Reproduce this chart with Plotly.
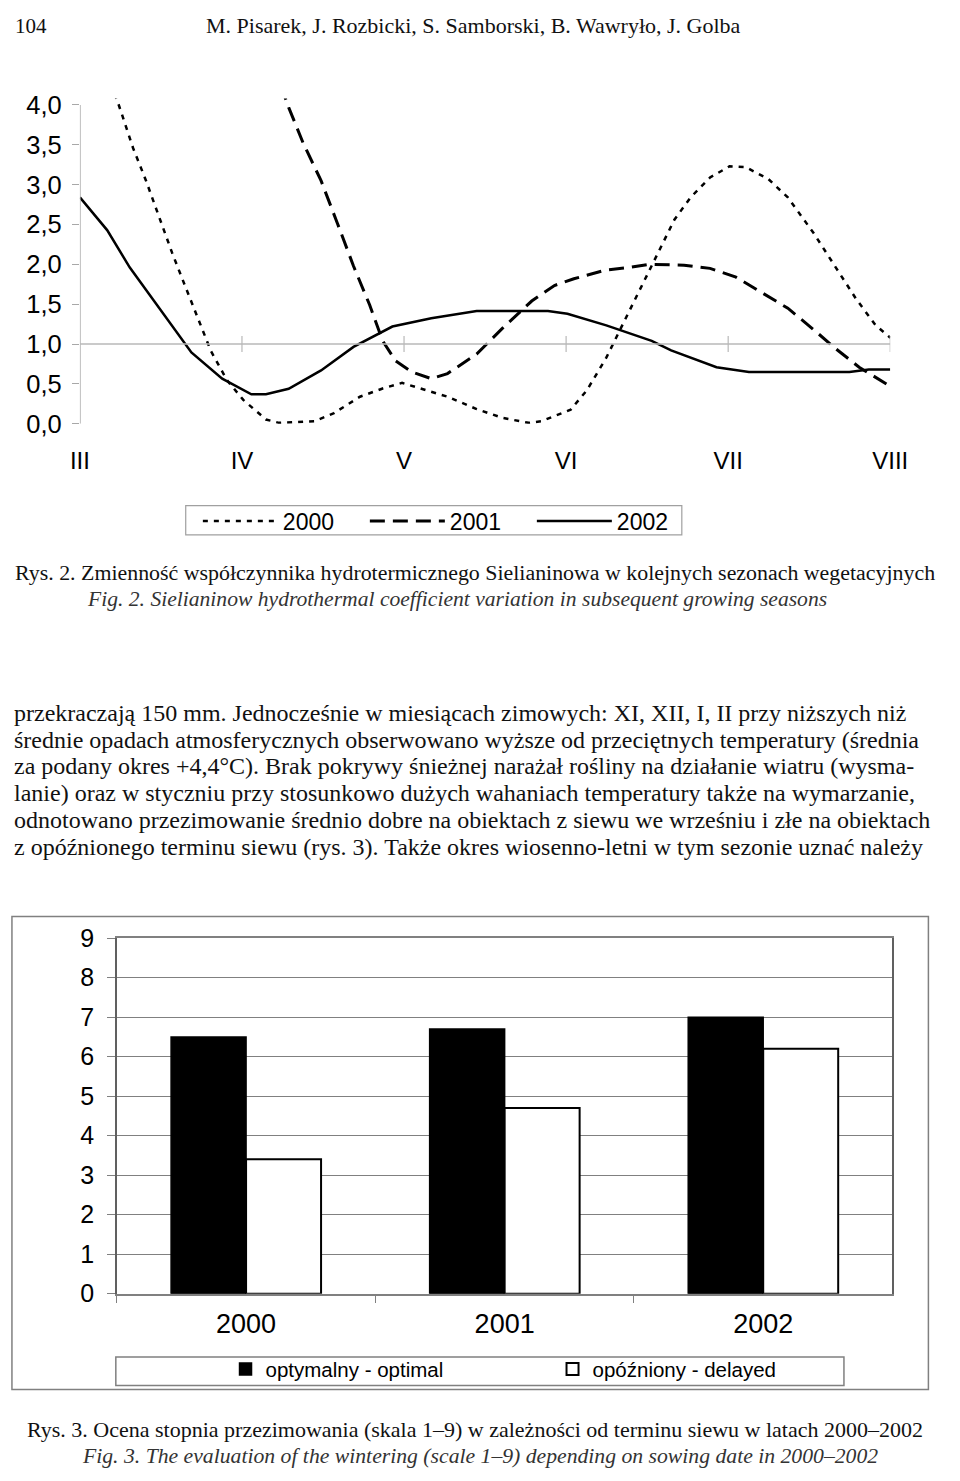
import plotly.graph_objects as go

W, H = 960, 1481

# --- Fig. 2: Sielianinow coefficient, months III..VIII (0 = III, 5 = VIII)
month_labels = ["III", "IV", "V", "VI", "VII", "VIII"]
y_ticks = [0, 0.5, 1, 1.5, 2, 2.5, 3, 3.5, 4]
y_ticklabels = ["0,0", "0,5", "1,0", "1,5", "2,0", "2,5", "3,0", "3,5", "4,0"]

m_2000 = [0.0, 0.228, 0.258, 0.328, 0.408, 0.488, 0.568, 0.648, 0.728, 0.808, 0.908, 1.008,
          1.148, 1.228, 1.448, 1.568, 1.728, 1.868, 1.988, 2.108, 2.268, 2.448, 2.608,
          2.768, 2.848, 3.028, 3.128, 3.248, 3.328, 3.448, 3.568, 3.668, 3.768, 3.888,
          4.008, 4.108, 4.248, 4.368, 4.528, 4.668, 4.788, 4.908, 5.0]
v_2000 = [5.0, 4.07, 3.89, 3.46, 3.05, 2.60, 2.15, 1.735, 1.325, 0.915, 0.546, 0.30,
          0.054, 0.012, 0.033, 0.135, 0.34, 0.443, 0.513, 0.443, 0.34, 0.185, 0.074,
          0.012, 0.033, 0.177, 0.42, 0.83, 1.16, 1.65, 2.15, 2.56, 2.84, 3.09,
          3.23, 3.22, 3.07, 2.84, 2.39, 1.94, 1.57, 1.24, 1.08]

m_2001 = [1.0, 1.288, 1.378, 1.488, 1.588, 1.688, 1.788, 1.868, 1.948, 2.048, 2.168,
          2.268, 2.448, 2.608, 2.788, 2.928, 3.048, 3.248, 3.388, 3.508, 3.728, 3.888,
          4.048, 4.208, 4.368, 4.528, 4.668, 4.808, 5.0]
v_2001 = [5.6, 3.97, 3.52, 3.05, 2.52, 1.98, 1.49, 1.04, 0.79, 0.65, 0.566,
          0.63, 0.874, 1.20, 1.54, 1.735, 1.82, 1.93, 1.96, 2.00, 1.99, 1.95,
          1.84, 1.65, 1.45, 1.18, 0.935, 0.71, 0.47]

m_2002 = [0.0, 0.168, 0.308, 0.488, 0.688, 0.878, 1.058, 1.148, 1.288, 1.488, 1.688,
          1.928, 2.168, 2.448, 2.888, 3.008, 3.248, 3.528, 3.648, 3.928, 4.128,
          4.748, 4.868, 5.0]
v_2002 = [2.84, 2.43, 1.96, 1.45, 0.895, 0.566, 0.37, 0.37, 0.44, 0.67, 0.965,
          1.22, 1.325, 1.415, 1.415, 1.38, 1.235, 1.04, 0.92, 0.71, 0.65,
          0.65, 0.68, 0.68]

# --- Fig. 3: wintering score
years = ["2000", "2001", "2002"]
optimal = [6.5, 6.7, 7.0]
delayed = [3.4, 4.7, 6.2]

SANS = "Liberation Sans, Arial, sans-serif"
SERIF = "Liberation Serif, Times New Roman, serif"


def py(y):
    return 1 - y / H


fig = go.Figure()

fig.add_trace(go.Scatter(x=m_2000, y=v_2000, mode="lines", name="2000",
                         line=dict(color="black", width=2.5, dash="5px,6px"),
                         xaxis="x", yaxis="y", legend="legend"))
fig.add_trace(go.Scatter(x=m_2001, y=v_2001, mode="lines", name="2001",
                         line=dict(color="black", width=3, dash="15px,8px"),
                         xaxis="x", yaxis="y", legend="legend"))
fig.add_trace(go.Scatter(x=m_2002, y=v_2002, mode="lines", name="2002",
                         line=dict(color="black", width=2.5),
                         xaxis="x", yaxis="y", legend="legend"))

fig.add_trace(go.Bar(x=years, y=optimal, name="optymalny - optimal",
                     marker=dict(color="black", line=dict(color="black", width=1.5)),
                     xaxis="x2", yaxis="y2", legend="legend2"))
fig.add_trace(go.Bar(x=years, y=delayed, name="opóźniony - delayed",
                     marker=dict(color="white", line=dict(color="black", width=2)),
                     xaxis="x2", yaxis="y2", legend="legend2"))

# axis lines of fig. 2 (x axis crosses at 1,0)
shapes = [
    dict(type="line", xref="x", yref="y", x0=0, x1=0, y0=0, y1=4,
         line=dict(color="#a8a8a8", width=1.5)),
    dict(type="line", xref="x", yref="y", x0=0, x1=5, y0=1, y1=1,
         line=dict(color="#b8b8b8", width=1.5)),
]
for i in range(1, len(month_labels)):
    shapes.append(dict(type="line", xref="x", yref="y", x0=i, x1=i, y0=0.9, y1=1.1,
                       line=dict(color="#b8b8b8", width=1.2)))
# legend box fig. 2
shapes.append(dict(type="rect", xref="paper", yref="paper",
                   x0=181 / W, x1=692 / W, y0=py(531), y1=py(501),
                   line=dict(color="#a0a0a0", width=1.2)))
# chart border fig. 3
shapes.append(dict(type="rect", xref="paper", yref="paper",
                   x0=2 / W, x1=946 / W, y0=py(1402), y1=py(920),
                   line=dict(color="#808080", width=1.5)))
# legend box fig. 3
shapes.append(dict(type="rect", xref="paper", yref="paper",
                   x0=109 / W, x1=859 / W, y0=py(1398), y1=py(1369),
                   line=dict(color="#808080", width=1.5)))

paragraph = [
    "przekraczają 150 mm. Jednocześnie w miesiącach zimowych: XI, XII, I, II przy niższych niż",
    "średnie opadach atmosferycznych obserwowano wyższe od przeciętnych temperatury (średnia",
    "za podany okres +4,4°C). Brak pokrywy śnieżnej narażał rośliny na działanie wiatru (wysma-",
    "lanie) oraz w styczniu przy stosunkowo dużych wahaniach temperatury także na wymarzanie,",
    "odnotowano przezimowanie średnio dobre na obiektach z siewu we wrześniu i złe na obiektach",
    "z opóźnionego terminu siewu (rys. 3). Także okres wiosenno-letni w tym sezonie uznać należy",
]

ann = []


def text(x, y, s, size, anchor="left", italic=False, color="#111", family=SERIF):
    ann.append(dict(x=x / W, y=py(y), xref="paper", yref="paper", text=s, showarrow=False,
                    xanchor=anchor, yanchor="middle",
                    font=dict(family=family, size=size, color=color,
                              style="italic" if italic else "normal")))


text(3, 12, "104", 21)
text(477, 12, "M. Pisarek, J. Rozbicki, S. Samborski, B. Wawryło, J. Golba", 22, "center")
text(479, 569, "Rys. 2. Zmienność współczynnika hydrotermicznego Sielianinowa w kolejnych sezonach wegetacyjnych",
     21.9, "center")
text(77, 596, "Fig. 2. Sielianinow hydrothermal coefficient variation in subsequent growing seasons",
     21.6, italic=True, color="#333")
for i, line in enumerate(paragraph):
    text(2, 712 + 27.5 * i, line, 24)
text(479, 1443, "Rys. 3. Ocena stopnia przezimowania (skala 1–9) w zależności od terminu siewu w latach 2000–2002",
     22, "center")
text(484, 1470, "Fig. 3. The evaluation of the wintering (scale 1–9) depending on sowing date in 2000–2002",
     21.7, "center", italic=True, color="#333")

fig.update_layout(
    width=W, height=H,
    margin=dict(l=0, r=0, t=0, b=0),
    paper_bgcolor="white", plot_bgcolor="white",
    font=dict(family=SANS, color="black"),
    shapes=shapes, annotations=ann,
    barmode="group", bargap=0.42, bargroupgap=0,
    xaxis=dict(domain=[72 / W, 906.7 / W], range=[0, 5], tickvals=list(range(6)),
               ticktext=month_labels, showgrid=False, zeroline=False, showline=False,
               ticks="", ticklabelstandoff=20, tickfont=dict(size=24)),
    yaxis=dict(domain=[py(417.7), py(86.2)], range=[0, 4.08], tickvals=y_ticks,
               ticktext=y_ticklabels, showgrid=False, zeroline=False, showline=False,
               ticks="outside", ticklen=7, tickcolor="#a8a8a8", tickwidth=1.2,
               tickfont=dict(size=25.5), ticklabelstandoff=5),
    xaxis2=dict(domain=[110 / W, 909 / W], anchor="y2", type="category",
                showgrid=False, zeroline=False, showline=True, linecolor="#808080",
                linewidth=1.5, mirror=True, ticks="outside", tickson="boundaries",
                ticklen=8, tickcolor="#808080", tickfont=dict(size=27),
                ticklabelstandoff=5),
    yaxis2=dict(domain=[py(1304.3), py(942)], anchor="x2", range=[0, 9], dtick=1,
                showgrid=True, gridcolor="#808080", gridwidth=1.2, zeroline=False,
                showline=True, linecolor="#606060", linewidth=1.5, mirror=True,
                ticks="outside", ticklen=8, tickcolor="#808080",
                tickfont=dict(size=25), ticklabelstandoff=8),
    legend=dict(orientation="h", x=193.5 / W, y=py(495), xanchor="left", yanchor="top",
                itemwidth=75, entrywidth=77, font=dict(size=23, family=SANS),
                bgcolor="rgba(0,0,0,0)", borderwidth=0, traceorder="normal"),
    legend2=dict(orientation="h", x=222 / W, y=py(1361), xanchor="left", yanchor="top",
                 itemwidth=30, entrywidth=282, font=dict(size=20.5, family=SANS),
                 bgcolor="rgba(0,0,0,0)", borderwidth=0, traceorder="normal"),
)

# page without the default body margin, so the 960x1481 figure fills the window
fig.write_html("out.html", config={"displayModeBar": False},
               post_script="document.body.style.margin='0';document.body.style.overflow='hidden';")
